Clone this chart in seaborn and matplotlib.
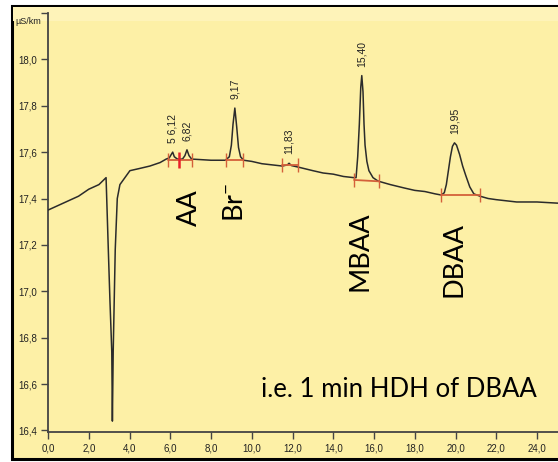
import numpy as np
import pandas as pd
import matplotlib
matplotlib.use("Agg")
import matplotlib.pyplot as plt
import matplotlib.patches as mpatches
import seaborn as sns

# Chromatogram trace: retention time (min) and conductivity (µS/cm)
time_min = [
    0.00, 0.50, 1.00, 1.50, 2.00, 2.50, 2.85, 2.96, 3.04, 3.13, 3.16, 3.20,
    3.25, 3.30, 3.40, 3.53, 4.02, 4.52, 5.00, 5.50, 5.80, 5.95, 6.05, 6.12,
    6.20, 6.35, 6.60, 6.72, 6.82, 6.92, 7.05, 8.00, 8.70, 8.90, 9.00, 9.08,
    9.17, 9.26, 9.35, 9.45, 9.60, 10.00, 10.50, 11.00, 11.50, 11.75, 11.83,
    11.95, 12.30, 13.00, 13.50, 14.00, 14.50, 15.00, 15.12, 15.20, 15.28,
    15.35, 15.40, 15.46, 15.51, 15.56, 15.65, 15.75, 15.95, 16.20, 16.80,
    17.50, 18.00, 18.50, 19.00, 19.30, 19.45, 19.55, 19.65, 19.75, 19.85,
    19.95, 20.05, 20.20, 20.35, 20.50, 20.70, 20.90, 21.20, 21.60, 22.00,
    22.50, 23.00, 24.00, 25.00, 25.20,
]
signal = [
    17.350, 17.370, 17.390, 17.410, 17.440, 17.460, 17.490, 17.180, 16.960,
    16.740, 16.440, 16.740, 16.960, 17.180, 17.400, 17.460, 17.520, 17.530,
    17.540, 17.555, 17.570, 17.575, 17.590, 17.600, 17.580, 17.570, 17.570,
    17.585, 17.610, 17.585, 17.570, 17.565, 17.565, 17.580, 17.630, 17.720,
    17.790, 17.710, 17.620, 17.580, 17.565, 17.560, 17.550, 17.545, 17.540,
    17.545, 17.552, 17.542, 17.535, 17.520, 17.510, 17.505, 17.495, 17.490,
    17.490, 17.580, 17.720, 17.880, 17.930, 17.860, 17.720, 17.630, 17.560,
    17.520, 17.490, 17.475, 17.460, 17.445, 17.435, 17.430, 17.420, 17.415,
    17.425, 17.460, 17.520, 17.580, 17.625, 17.640, 17.630, 17.590, 17.540,
    17.500, 17.450, 17.420, 17.410, 17.400, 17.395, 17.390, 17.385, 17.385,
    17.380, 17.380,
]

# Retention-time labels printed above the peaks
peak_rt = [6.12, 6.82, 9.17, 11.83, 15.40, 19.95]
peak_text = ["5 6,12", "6,82", "9,17", "11,83", "15,40", "19,95"]

# Integration baselines (start/end time and level)
seg_t0 = [5.90, 8.72, 11.50, 15.02, 19.29]
seg_t1 = [7.05, 9.55, 12.27, 16.24, 21.19]
seg_y0 = [17.565, 17.565, 17.545, 17.480, 17.414]
seg_y1 = [17.565, 17.565, 17.545, 17.474, 17.414]
split_t = [6.43]

# Compound names and where they sit
cmp_text = ["AA", "Br$^{-}$", "MBAA", "DBAA"]
cmp_t = [7.31, 9.57, 15.66, 20.27]
cmp_y = [17.28, 17.30, 17.00, 16.976]

x_ticks = [0, 2, 4, 6, 8, 10, 12, 14, 16, 18, 20, 22, 24]
y_ticks = [16.4, 16.6, 16.8, 17.0, 17.2, 17.4, 17.6, 17.8, 18.0, 18.2]

PANEL = "#FDF0A6"
TRACE = "#2b2b2b"
INTEG = "#D4603A"

sns.set_theme(style="ticks")
plt.rcParams["font.family"] = ["Lato", "DejaVu Sans"]
plt.rcParams["mathtext.default"] = "regular"

fig = plt.figure(figsize=(5.58, 4.62), dpi=100, facecolor="white")

# yellow panel with black frame
fig.patches.append(mpatches.Rectangle(
    (12 / 558, 3 / 462), 560 / 558, 453 / 462, transform=fig.transFigure,
    facecolor=PANEL, edgecolor="black", linewidth=2.2, zorder=-5))
fig.patches.append(mpatches.Rectangle(
    (13 / 558, 441 / 462), 560 / 558, 14 / 462, transform=fig.transFigure,
    facecolor="#FEF3B9", edgecolor="none", zorder=-4))

ax = fig.add_axes([48 / 558, 30 / 462, 510 / 558, 419 / 462])
ax.set_facecolor("none")

df = pd.DataFrame({"t": time_min, "s": signal})
sns.lineplot(data=df, x="t", y="s", ax=ax, color=TRACE, linewidth=1.1,
             estimator=None, sort=False, zorder=3)

# integration baselines with end marks
for a, b, ya, yb in zip(seg_t0, seg_t1, seg_y0, seg_y1):
    ax.plot([a, b], [ya, yb], color=INTEG, linewidth=1.3, zorder=4)
    ax.plot([a, b], [ya, yb], linestyle="none", marker="|", markersize=10,
            markeredgewidth=1.0, color=INTEG, zorder=4)
for t in split_t:
    ax.plot([t], [seg_y0[0]], linestyle="none", marker="|", markersize=11,
            markeredgewidth=1.8, color="#E8202A", zorder=5)

# retention-time labels
for rt, txt in zip(peak_rt, peak_text):
    top = np.interp(rt, time_min, signal)
    ax.annotate(txt, xy=(rt, top), xytext=(0, 6.5), textcoords="offset points",
                rotation=90, ha="center", va="bottom", fontsize=7.5,
                family=["Liberation Sans"], color="#222222")

for txt, t, y in zip(cmp_text, cmp_t, cmp_y):
    ax.text(t, y, txt, rotation=90, rotation_mode="anchor", ha="left",
            va="baseline", fontsize=19.5, color="black")

ax.text(0.959, 0.0835, "i.e. 1 min HDH of DBAA", transform=ax.transAxes,
        ha="right", va="baseline", fontsize=18.5, color="black")

ax.set_xlim(0, 25.03)
ax.set_ylim(16.393, 18.2)
ax.set_xticks(x_ticks)
ax.set_xticklabels([f"{v:.1f}".replace(".", ",") for v in x_ticks])
ax.set_yticks(y_ticks)
ax.set_yticklabels([f"{v:.1f}".replace(".", ",") for v in y_ticks[:-1]] + [""])
ax.set_xlabel("")
ax.set_ylabel("")
for lab in ax.get_xticklabels() + ax.get_yticklabels():
    lab.set_family(["Liberation Sans"])
ax.tick_params(direction="out", length=5, width=1, colors="#444444",
               labelsize=7, pad=3, labelcolor="#222222")
for side in ("top", "right"):
    ax.spines[side].set_visible(False)
for side in ("left", "bottom"):
    ax.spines[side].set_color("#444444")
    ax.spines[side].set_linewidth(1.3)

fig.text(41 / 558, 1 - 22 / 462, "µS/km", ha="right", va="center",
         fontsize=6.5, family=["Liberation Sans"], color="#222222")

fig.savefig("out.png", dpi=100, facecolor="white")
